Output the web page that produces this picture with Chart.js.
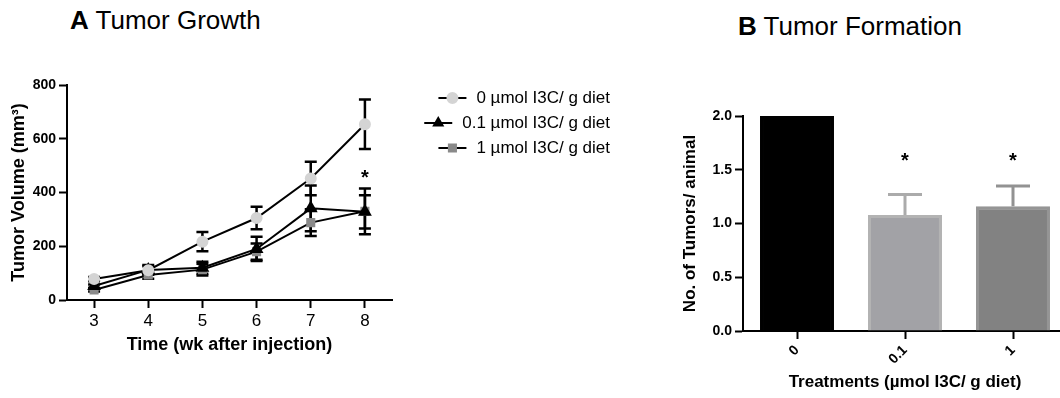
<!DOCTYPE html>
<html>
<head>
<meta charset="utf-8">
<script src="https://cdn.jsdelivr.net/npm/chart.js@4/dist/chart.umd.min.js"></script>
<style>
  html, body { margin: 0; padding: 0; background: #fff; width: 1060px; height: 398px; overflow: hidden; }
  body { position: relative; font-family: 'Liberation Sans', Arial, sans-serif; }
  .panel-title { position: absolute; font-size: 26px; line-height: 30px; color: #000; white-space: nowrap; }
  #chartA { position: absolute; left: 0; top: 0; }
  #chartB { position: absolute; left: 660px; top: 0; }
</style>
</head>
<body>
<div class="panel-title" style="left:70px; top:5px;"><b>A</b> Tumor Growth</div>
<div class="panel-title" style="left:738px; top:11px;"><b>B</b> Tumor Formation</div>
<canvas id="chartA" width="660" height="398"></canvas>
<canvas id="chartB" width="420" height="398"></canvas>
<script>
// --- data: tumor growth (A) ---
const weeks = [3, 4, 5, 6, 7, 8];
const doseLabels = ['0 µmol I3C/ g diet', '0.1 µmol I3C/ g diet', '1 µmol I3C/ g diet'];
const volDose0 = [78, 111, 217, 305, 452, 654];
const semDose0 = [8, 15, 36, 42, 62, 92];
const volDose01 = [52, 112, 120, 190, 341, 328];
const semDose01 = [6, 18, 22, 45, 85, 62];
const volDose1 = [37, 93, 113, 180, 288, 330];
const semDose1 = [5, 14, 22, 30, 50, 85];
const volumeTicks = [0, 200, 400, 600, 800];
const growthStars = [{ x: 8, y: 468 }];

// --- data: tumor formation (B) ---
const treatments = ['0', '0.1', '1'];
const tumorsPerAnimal = [2.0, 1.08, 1.16];
const tumorsSem = [0, 0.19, 0.19];
const tumorTicks = [0, 0.5, 1.0, 1.5, 2.0];
const formationStars = [{ x: '0.1', y: 1.61 }, { x: '1', y: 1.61 }];

Chart.defaults.font.family = "'Liberation Sans', Arial, sans-serif";
Chart.defaults.color = '#000';

// error bars drawn through the chart's own scales
const errorBars = {
    id: 'errorBars',
    beforeDatasetsDraw(chart) {
        const ctx = chart.ctx;
        chart.data.datasets.forEach((ds, i) => {
            if (!ds.errors) return;
            const meta = chart.getDatasetMeta(i);
            const yScale = chart.scales[meta.yAxisID];
            meta.data.forEach((el, j) => {
                const e = ds.errors[j];
                if (!e) return;
                const raw = ds.data[j];
                const val = typeof raw === 'object' ? raw.y : raw;
                const top = yScale.getPixelForValue(val + e);
                const bot = yScale.getPixelForValue(ds.errorUpOnly ? val : val - e);
                const color = Array.isArray(ds.errorColor) ? ds.errorColor[j] : (ds.errorColor || '#000');
                const half = ds.capHalf || 6;
                ctx.save();
                ctx.strokeStyle = color;
                ctx.lineWidth = ds.errorWidth || 2.5;
                ctx.beginPath();
                ctx.moveTo(el.x, bot);
                ctx.lineTo(el.x, top);
                ctx.moveTo(el.x - half, top);
                ctx.lineTo(el.x + half, top);
                if (!ds.errorUpOnly) {
                    ctx.moveTo(el.x - half, bot);
                    ctx.lineTo(el.x + half, bot);
                }
                ctx.stroke();
                ctx.restore();
            });
        });
    }
};

// significance asterisks
const stars = {
    id: 'stars',
    afterDatasetsDraw(chart, args, opts) {
        const ctx = chart.ctx;
        ctx.save();
        ctx.font = 'bold 20px "Liberation Sans", Arial, sans-serif';
        ctx.fillStyle = '#000';
        ctx.textAlign = 'center';
        ctx.textBaseline = 'middle';
        (opts.points || []).forEach(p => {
            const x = chart.scales.x.getPixelForValue(p.x);
            const y = chart.scales.y.getPixelForValue(p.y);
            ctx.fillText('*', x, y + 4);
        });
        ctx.restore();
    }
};

// legend with line + marker, text right aligned (GraphPad style)
const lineLegend = {
    id: 'lineLegend',
    afterDraw(chart, args, opts) {
        const ctx = chart.ctx;
        ctx.save();
        ctx.font = '17px "Liberation Sans", Arial, sans-serif';
        ctx.textBaseline = 'middle';
        chart.data.datasets.forEach((ds, i) => {
            const y = opts.top + i * opts.rowGap;
            const w = ctx.measureText(ds.label).width;
            const textLeft = opts.right - w;
            ctx.fillStyle = '#000';
            ctx.textAlign = 'left';
            ctx.fillText(ds.label, textLeft, y);
            const x1 = textLeft - 10, x0 = x1 - 28;
            ctx.strokeStyle = '#000';
            ctx.lineWidth = 2;
            ctx.beginPath();
            ctx.moveTo(x0, y);
            ctx.lineTo(x1, y);
            ctx.stroke();
            ctx.fillStyle = ds.pointBackgroundColor;
            ctx.strokeStyle = ds.pointBorderColor;
            Chart.helpers.drawPoint(ctx, { pointStyle: ds.pointStyle, radius: 5, borderWidth: 1, rotation: 0 }, (x0 + x1) / 2, y);
        });
        ctx.restore();
    }
};

function toPoints(ys) {
    return weeks.map((w, i) => ({ x: w, y: ys[i] }));
}

const axisBorder = { display: true, color: '#000', width: 2 };
const tickGrid = { drawOnChartArea: false, tickLength: 8, tickColor: '#000', tickWidth: 2, color: '#000' };

// Gráfica A: crecimiento tumoral
new Chart(document.getElementById('chartA').getContext('2d'), {
    type: 'line',
    data: {
        datasets: [
            {
                label: doseLabels[0],
                data: toPoints(volDose0),
                errors: semDose0,
                borderColor: '#000',
                borderWidth: 2,
                pointStyle: 'circle',
                pointRadius: 5,
                pointBackgroundColor: '#d4d4d4',
                pointBorderColor: '#d4d4d4',
                tension: 0
            },
            {
                label: doseLabels[1],
                data: toPoints(volDose01),
                errors: semDose01,
                borderColor: '#000',
                borderWidth: 2,
                pointStyle: 'triangle',
                pointRadius: 6,
                pointBackgroundColor: '#000',
                pointBorderColor: '#000',
                tension: 0
            },
            {
                label: doseLabels[2],
                data: toPoints(volDose1),
                errors: semDose1,
                borderColor: '#000',
                borderWidth: 2,
                pointStyle: 'rect',
                pointRadius: 5,
                pointBackgroundColor: '#8a8a8a',
                pointBorderColor: '#8a8a8a',
                tension: 0
            }
        ]
    },
    options: {
        responsive: false,
        animation: false,
        layout: { padding: { left: 4, top: 85, right: 268, bottom: 38 } },
        plugins: {
            legend: { display: false },
            tooltip: { enabled: false },
            stars: { points: growthStars },
            lineLegend: { right: 610, top: 98, rowGap: 25 }
        },
        scales: {
            x: {
                type: 'linear',
                min: 2.5,
                max: 8.5,
                border: axisBorder,
                grid: tickGrid,
                afterBuildTicks: s => { s.ticks = weeks.map(v => ({ value: v })); },
                afterFit: s => { s.height = 60; },
                ticks: { font: { size: 17 }, padding: 3, maxRotation: 0 },
                title: {
                    display: true,
                    text: 'Time (wk after injection)',
                    font: { size: 18, weight: 'bold' },
                    padding: 4
                }
            },
            y: {
                min: 0,
                max: 800,
                border: axisBorder,
                grid: tickGrid,
                afterBuildTicks: s => { s.ticks = volumeTicks.map(v => ({ value: v })); },
                afterFit: s => { s.width = 63; },
                ticks: { font: { size: 14, weight: 'bold' }, padding: 3 },
                title: {
                    display: true,
                    text: 'Tumor Volume (mm³)',
                    font: { size: 18, weight: 'bold' },
                    padding: 4
                }
            }
        }
    },
    plugins: [errorBars, stars, lineLegend]
});

// Gráfica B: formación de tumores
new Chart(document.getElementById('chartB').getContext('2d'), {
    type: 'bar',
    data: {
        labels: treatments,
        datasets: [{
            label: 'No. of Tumors/ animal',
            data: tumorsPerAnimal,
            errors: tumorsSem,
            errorUpOnly: true,
            errorColor: ['#000', '#ababab', '#929292'],
            errorWidth: 3,
            capHalf: 17,
            backgroundColor: ['#000', '#a2a2a6', '#828282'],
            borderColor: ['#000', '#b3b3b3', '#959595'],
            borderWidth: 3,
            barPercentage: 0.685,
            categoryPercentage: 1
        }]
    },
    options: {
        responsive: false,
        animation: false,
        layout: { padding: { left: 16, top: 116, right: 13, bottom: 1 } },
        plugins: {
            legend: { display: false },
            tooltip: { enabled: false },
            stars: { points: formationStars }
        },
        scales: {
            x: {
                border: axisBorder,
                grid: Object.assign({}, tickGrid, { offset: false }),
                afterFit: s => { s.height = 66; },
                ticks: { font: { size: 14, weight: 'bold' }, padding: 3, minRotation: 45, maxRotation: 45 },
                title: {
                    display: true,
                    text: 'Treatments (µmol I3C/ g diet)',
                    font: { size: 17, weight: 'bold' },
                    padding: 4
                }
            },
            y: {
                min: 0,
                max: 2,
                border: axisBorder,
                grid: tickGrid,
                afterBuildTicks: s => { s.ticks = tumorTicks.map(v => ({ value: v })); },
                afterFit: s => { s.width = 67; },
                ticks: { font: { size: 14, weight: 'bold' }, padding: 3, callback: v => v.toFixed(1) },
                title: {
                    display: true,
                    text: 'No. of Tumors/ animal',
                    font: { size: 17, weight: 'bold' },
                    padding: 4
                }
            }
        }
    },
    plugins: [errorBars, stars]
});
</script>
</body>
</html>
